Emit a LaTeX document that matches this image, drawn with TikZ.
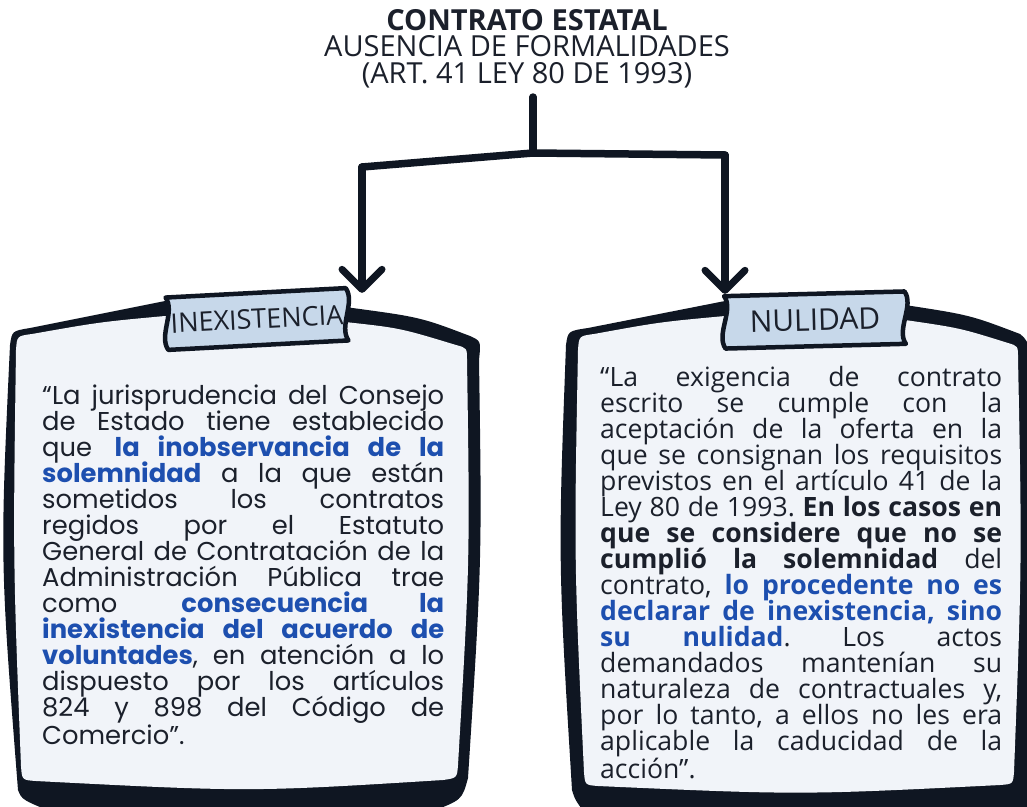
\documentclass[tikz,border=0pt]{standalone}
\usepackage{fontspec}
\setmainfont{Open Sans}
\newfontfamily\popfont{Poppins}
\usetikzlibrary{calc,arrows.meta}
\pgfdeclarelayer{back}
\pgfsetlayers{back,main}
\definecolor{ink}{HTML}{0F1622}
\definecolor{paper}{HTML}{F1F4F9}
\definecolor{ribbon}{HTML}{C7D8EA}
\definecolor{hilite}{HTML}{1D4FAF}
\definecolor{txt}{HTML}{1B202B}
\frenchspacing
\def\hl#1{\textcolor{hilite}{\bfseries #1}}
\def\jline#1{\makebox[402pt][s]{\spaceskip=0pt\xspaceskip=0pt\relax #1}}
\def\tabshape(#1){\draw[line width=4.5pt, draw=ink, fill=ribbon, line join=round] (#1.north west) -- (#1.north east) .. controls ($(#1.north east)+(10,14)$) and ($(#1.south east)+(-10,-14)$) .. (#1.south east) -- (#1.south west) .. controls ($(#1.south west)+(-10,-14)$) and ($(#1.north west)+(10,14)$) .. (#1.north west) -- cycle;}
\tikzset{
  stem/.style={line width=7.5pt, draw=ink, line cap=round, line join=round},
  tablabel/.style={inner sep=0pt, minimum width=180pt, minimum height=52pt, text=txt},
  bodytext/.style={inner sep=0pt, anchor=north west, text width=402pt, align=left, text=txt}
}
\begin{document}
\begin{tikzpicture}[x=1pt, y=-1pt]
		%%%%% START %%%%%
		\useasboundingbox (0,0) rectangle (1027,806);
		
		% title
		\node[inner sep=0pt, anchor=north, align=center, text=txt, font=\fontsize{29}{26.5}\selectfont] (title) at (527,9)
			{{\bfseries CONTRATO ESTATAL}\\AUSENCIA DE FORMALIDADES\\(ART. 41 LEY 80 DE 1993)};
		
		% tabs
		\node[tablabel, rotate=3, font=\fontsize{27}{27}\selectfont] (tabinex) at (257,319) {INEXISTENCIA};
		\node[tablabel, rotate=1.5, font=\fontsize{30}{30}\selectfont] (tabnul) at (815,320) {NULIDAD};
		
		\begin{pgfonlayer}{back}
		\fill[white] (0,0) rectangle (1027,806);
		% left box
		\fill[ink] (10,345) .. controls (12,331) .. (30,328) -- (165,301) -- (345,307)
			.. controls (420,317) .. (470,336) .. controls (481,341) .. (479,360)
			.. controls (482,560) .. (468,778) .. controls (462,800) .. (430,812)
			-- (60,815) .. controls (22,800) .. (18,790) .. controls (0,560) .. (10,345) -- cycle;
		\fill[paper] (16,350) .. controls (17,336) .. (32,334) .. controls (100,322) .. (165,316)
			-- (345,322) .. controls (400,328) .. (456,345) .. controls (467,348) .. (467,360)
			.. controls (470,560) .. (458,765) .. controls (457,778) .. (443,780)
			.. controls (250,792) .. (36,781) .. controls (22,780) .. (21,766)
			.. controls (13,560) .. (16,350) -- cycle;
		
		% right box
		\fill[ink] (566,345) .. controls (568,331) .. (588,328) -- (725,301) -- (905,305)
			.. controls (970,315) .. (1020,334) .. controls (1027,340) .. (1030,355)
			-- (1030,820) -- (590,820) .. controls (575,800) .. (572,790)
			.. controls (558,560) .. (566,345) -- cycle;
		\fill[paper] (578,350) .. controls (579,336) .. (594,334) .. controls (660,322) .. (725,316)
			-- (905,320) .. controls (960,328) .. (1008,343) .. controls (1018,346) .. (1018,358)
			.. controls (1022,560) .. (1014,772) .. controls (1013,784) .. (1000,785)
			.. controls (800,795) .. (598,786) .. controls (585,785) .. (584,772)
			.. controls (574,560) .. (578,350) -- cycle;
		
		\tabshape(tabinex)
		\tabshape(tabnul)
		\end{pgfonlayer}
		
		% connectors
		\coordinate (jc) at (533,153);
		\coordinate (jl) at (362,167);
		\coordinate (jr) at (725,155);
		\draw[stem] (title.south -| jc) ++(0,9) -- (jc);
		\draw[stem] (jl) -- (jc) -- (jr);
		\draw[stem, -{Straight Barb[length=20pt, width=40pt, line width=7pt, round]}] (jl) -- (jl |- tabinex.north);
		\draw[stem, -{Straight Barb[length=20pt, width=40pt, line width=7pt, round]}] (jr) -- (jr |- tabnul.north);
		
		% left text
		\node[bodytext, font=\popfont\fontsize{25.8}{26}\selectfont] (inextext) at (42,385) {%
			\lineskiplimit=-30pt\relax
			\jline{“La jurisprudencia del Consejo}\\
			\jline{de Estado tiene establecido}\\
			\jline{que \hl{la inobservancia de la}}\\
			\jline{\hl{solemnidad} a la que están}\\
			\jline{sometidos los contratos}\\
			\jline{regidos por el Estatuto}\\
			\jline{General de Contratación de la}\\
			\jline{Administración Pública trae}\\
			\jline{como \hl{consecuencia la}}\\
			\jline{\hl{inexistencia del acuerdo de}}\\
			\jline{\hl{voluntades}, en atención a lo}\\
			\jline{dispuesto por los artículos}\\
			\jline{824 y 898 del Código de}\\
			Comercio”.};
		
		% right text
		\node[bodytext, font=\fontsize{26.6}{26}\selectfont] (nultext) at (600,366) {%
			\lineskiplimit=-30pt\relax
			\jline{“La exigencia de contrato}\\
			\jline{escrito se cumple con la}\\
			\jline{aceptación de la oferta en la}\\
			\jline{que se consignan los requisitos}\\
			\jline{previstos en el artículo 41 de la}\\
			\jline{Ley 80 de 1993. \textbf{En los casos en}}\\
			\jline{\textbf{que se considere que no se}}\\
			\jline{\textbf{cumplió la solemnidad} del}\\
			\jline{contrato, \hl{lo procedente no es}}\\
			\jline{\hl{declarar de inexistencia, sino}}\\
			\jline{\hl{su nulidad}. Los actos}\\
			\jline{demandados mantenían su}\\
			\jline{naturaleza de contractuales y,}\\
			\jline{por lo tanto, a ellos no les era}\\
			\jline{aplicable la caducidad de la}\\
			acción”.};
		
		%%%%% END %%%%%
	\end{tikzpicture}
\end{document}
